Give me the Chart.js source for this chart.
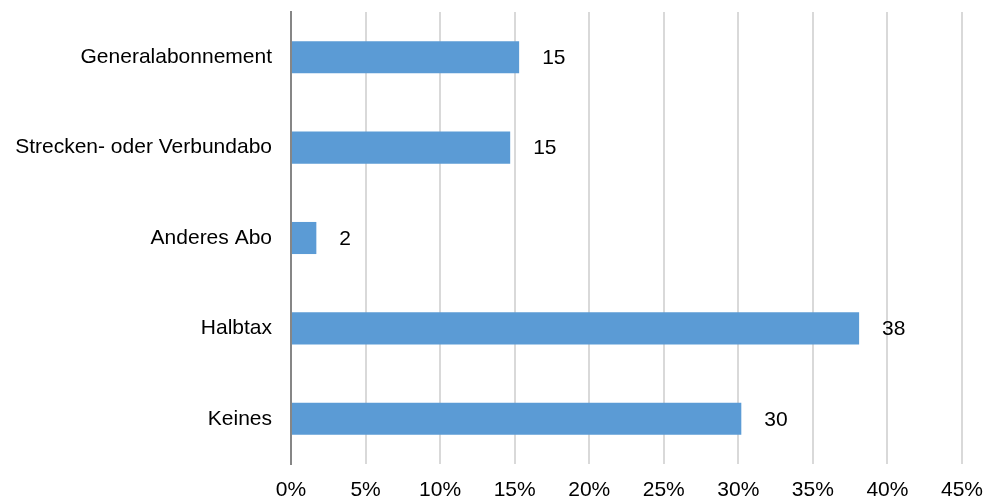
<!DOCTYPE html>
<html>
<head>
<meta charset="utf-8">
<script src="https://cdn.jsdelivr.net/npm/chart.js@4"></script>
<style>
html,body{margin:0;padding:0;background:#fff;}
#wrap{width:984px;height:499px;position:relative;}
</style>
</head>
<body>
<div id="wrap"><canvas id="c" width="984" height="499"></canvas></div>
<script>
const categories = ["Generalabonnement", "Strecken- oder Verbundabo", "Anderes Abo", "Halbtax", "Keines"];
const values = [15.3, 14.7, 1.7, 38.1, 30.2];
const valueLabels = ["15", "15", "2", "38", "30"];
const xTicks = [0, 5, 10, 15, 20, 25, 30, 35, 40, 45];

const FONT = '"Liberation Sans", Arial, sans-serif';

const labelPlugin = {
  id: 'valueLabels',
  afterDatasetsDraw(chart) {
    const ctx = chart.ctx;
    const meta = chart.getDatasetMeta(0);
    ctx.save();
    ctx.font = '21px ' + FONT;
    ctx.fillStyle = '#000000';
    ctx.textAlign = 'left';
    ctx.textBaseline = 'middle';
    meta.data.forEach((bar, i) => {
      ctx.fillText(valueLabels[i], bar.x + 23, bar.y + 1);
    });
    ctx.restore();
  }
};

new Chart(document.getElementById('c'), {
  type: 'bar',
  data: {
    labels: categories,
    datasets: [{
      data: values,
      backgroundColor: '#5b9bd5',
      borderWidth: 0,
      barPercentage: 0.355,
      categoryPercentage: 1.0
    }]
  },
  options: {
    indexAxis: 'y',
    responsive: false,
    animation: false,
    devicePixelRatio: 1,
    layout: { padding: { top: 12, right: 22, left: 0, bottom: 0 } },
    plugins: { legend: { display: false }, tooltip: { enabled: false } },
    scales: {
      x: {
        min: 0, max: 45,
        afterBuildTicks(scale) { scale.ticks = xTicks.map(v => ({ value: v })); },
        afterFit(scale) { scale.height = 35; scale.paddingLeft = 0; scale.paddingRight = 0; },
        grid: { color: '#d9d9d9', lineWidth: 2, drawTicks: false },
        border: { display: false },
        ticks: {
          padding: 14,
          color: '#000000',
          maxRotation: 0,
          font: { family: FONT, size: 21 },
          callback: (v) => v + '%'
        }
      },
      y: {
        afterFit(scale) { scale.width = 291; scale.paddingTop = 0; scale.paddingBottom = 0; },
        grid: { display: false, drawTicks: false },
        border: { display: true, color: '#868686', width: 2 },
        ticks: {
          padding: 19,
          color: '#000000',
          font: { family: FONT, size: 21 }
        }
      }
    }
  },
  plugins: [labelPlugin]
});
</script>
</body>
</html>
